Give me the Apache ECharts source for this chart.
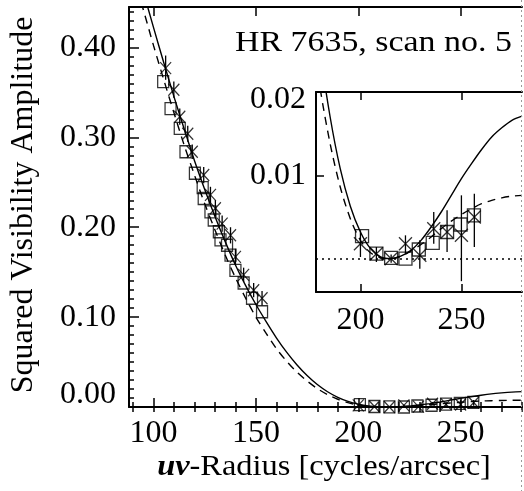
<!DOCTYPE html>
<html>
<head>
<meta charset="utf-8">
<script src="https://cdn.jsdelivr.net/npm/echarts@6/dist/echarts.min.js"></script>
<style>
  html, body { margin: 0; padding: 0; background: #fff; }
  #chart { width: 524px; height: 491px; }
</style>
</head>
<body>
<div id="chart"></div>
<script>
// squares (one set of measurements)
const sqX = [104.7, 108.3, 112.8, 115.6, 120.2, 124.0, 124.5, 127.8, 129.4, 131.9, 132.7, 135.9, 137.6, 140.0, 144.0, 148.1, 153.0,
  200.8, 207.9, 215.2, 222.3, 228.9, 235.8, 242.9, 249.6, 256.2]
const sqY = [0.362, 0.332, 0.310, 0.284, 0.260, 0.244, 0.232, 0.217, 0.208, 0.195, 0.186, 0.180, 0.169, 0.152, 0.138, 0.121, 0.106,
  0.0027, 0.0006, 0.0001, 0.0000, 0.0011, 0.0019, 0.0032, 0.0041, 0.0052]

// crosses with error bars (low / high)
const crX = [105.9, 109.9, 112.8, 116.7, 118.9, 124.5, 127.8, 130.2, 133.5, 137.6, 140.0, 144.0, 148.9, 153.0,
  200.0, 207.9, 215.2, 222.3, 229.4, 236.3, 242.9, 250.0, 256.4]
const crY = [0.377, 0.353, 0.323, 0.304, 0.284, 0.258, 0.236, 0.221, 0.204, 0.191, 0.167, 0.147, 0.130, 0.121,
  0.0018, 0.0006, 0.0000, 0.0018, 0.0004, 0.0036, 0.0032, 0.0028, 0.0050]
const crLo = [0.364, 0.344, 0.314, 0.295, 0.276, 0.249, 0.227, 0.212, 0.195, 0.182, 0.158, 0.139, 0.122, 0.113,
  0.0002, -0.0004, -0.0005, 0.0006, -0.0012, 0.0018, 0.0008, -0.0027, 0.0014]
const crHi = [0.391, 0.362, 0.332, 0.313, 0.292, 0.267, 0.245, 0.230, 0.213, 0.200, 0.176, 0.155, 0.138, 0.129,
  0.0034, 0.0014, 0.0005, 0.0028, 0.0022, 0.0056, 0.0058, 0.0076, 0.0078]

// model curves: solid and dashed
const modelX = [90, 95, 100, 105, 110, 115, 120, 125, 130, 135, 140, 145, 150, 155, 160, 165, 170, 175, 180, 185, 190, 195,
  200, 205, 210, 215, 220, 225, 230, 235, 240, 245, 250, 255, 260, 265, 270, 275, 280]
const solidY = [0.500, 0.462, 0.422, 0.383, 0.345, 0.309, 0.274, 0.242, 0.212, 0.184, 0.158, 0.135, 0.114, 0.095, 0.077, 0.061, 0.047, 0.035, 0.0250, 0.0170, 0.0108, 0.0063,
  0.0032, 0.0012, 0.0002, 0.0000, 0.0003, 0.0010, 0.0022, 0.0038, 0.0056, 0.0076, 0.0096, 0.0114, 0.0131, 0.0146, 0.0157, 0.0166, 0.0171]
const dashY = [0.480, 0.442, 0.402, 0.364, 0.327, 0.291, 0.258, 0.226, 0.197, 0.169, 0.144, 0.121, 0.100, 0.082, 0.065, 0.051, 0.039, 0.029, 0.0205, 0.0138, 0.0086, 0.0048,
  0.0022, 0.0007, 0.0001, 0.0000, 0.0003, 0.0009, 0.0017, 0.0026, 0.0036, 0.0045, 0.0053, 0.0060, 0.0066, 0.0070, 0.0073, 0.0075, 0.0076]

// tick labels
const xTicks = [100, 150, 200, 250]
const yTicks = [0, 0.1, 0.2, 0.3, 0.4]
const insetXTicks = [200, 250]
const insetYTicks = [0.01, 0.02]

const xMinor = []
for (let v = 90; v <= 280; v += 10) xMinor.push(v)
const yMinor = []
for (let k = 0; k <= 44; k++) yMinor.push(k / 100)

const FONT = 'Liberation Serif'
const BLACK = '#000'

const squares = sqX.map((x, i) => [x, sqY[i]])
const crosses = crX.map((x, i) => [x, crY[i]])
const errBars = crX.map((x, i) => [x, crLo[i], crHi[i]])
const solid = modelX.map((x, i) => [x, solidY[i]])
const dashed = modelX.map((x, i) => [x, dashY[i]])

const chart = echarts.init(document.getElementById('chart'), null, { renderer: 'canvas' })

function valueAxis(extra) {
  return Object.assign({
    type: 'value',
    splitLine: { show: false },
    axisLine: { show: true, onZero: false, lineStyle: { color: BLACK, width: 2 } },
    axisTick: { show: false },
    axisLabel: { show: false },
  }, extra)
}
const tickStyle = { color: BLACK, width: 1.5 }
const labelStyle = { color: BLACK, fontFamily: FONT, fontSize: 32 }
const rt = { fontFamily: FONT, fontSize: 32, color: BLACK }

const xAxes = [
  // main plot
  valueAxis({ gridIndex: 0, min: 88, max: 280, position: 'bottom',
    axisTick: { show: true, inside: true, length: 9, customValues: xTicks, lineStyle: tickStyle },
    axisLabel: Object.assign({ show: true, margin: 11, customValues: xTicks }, labelStyle) }),
  valueAxis({ gridIndex: 0, min: 88, max: 280, position: 'bottom', axisLine: { show: false },
    axisTick: { show: true, inside: true, length: 5, customValues: xMinor, lineStyle: tickStyle } }),
  valueAxis({ gridIndex: 0, min: 88, max: 280, position: 'top',
    axisTick: { show: true, inside: true, length: 9, customValues: xTicks, lineStyle: tickStyle } }),
  valueAxis({ gridIndex: 0, min: 88, max: 280, position: 'top', axisLine: { show: false },
    axisTick: { show: true, inside: true, length: 5, customValues: xMinor, lineStyle: tickStyle } }),
  // inset
  valueAxis({ gridIndex: 1, min: 178, max: 280, position: 'bottom',
    axisTick: { show: true, inside: true, length: 8, customValues: insetXTicks, lineStyle: tickStyle },
    axisLabel: Object.assign({ show: true, margin: 13, customValues: insetXTicks }, labelStyle) }),
  valueAxis({ gridIndex: 1, min: 178, max: 280, position: 'top',
    axisTick: { show: true, inside: true, length: 8, customValues: insetXTicks, lineStyle: tickStyle } }),
]

const yAxes = [
  valueAxis({ gridIndex: 0, min: 0, max: 0.445, position: 'left',
    axisTick: { show: true, inside: true, length: 10, customValues: yTicks, lineStyle: tickStyle },
    axisLabel: Object.assign({ show: true, margin: 13, customValues: yTicks,
      formatter: v => (v === 0 ? '{lo|0.00}' : '{n|' + v.toFixed(2) + '}'),
      rich: { n: rt, lo: Object.assign({ padding: [0, 0, 24, 0] }, rt) } }, labelStyle) }),
  valueAxis({ gridIndex: 0, min: 0, max: 0.445, position: 'left', axisLine: { show: false },
    axisTick: { show: true, inside: true, length: 5, customValues: yMinor, lineStyle: tickStyle } }),
  valueAxis({ gridIndex: 1, min: -0.004, max: 0.02, position: 'left',
    axisTick: { show: true, inside: true, length: 8, customValues: insetYTicks, lineStyle: tickStyle },
    axisLabel: Object.assign({ show: true, margin: 10, customValues: insetYTicks,
      formatter: v => (v > 0.015 ? '{hi|' + v.toFixed(2) + '}' : '{n|' + v.toFixed(2) + '}'),
      rich: { n: rt, hi: Object.assign({ padding: [16, 0, 0, 0] }, rt) } }, labelStyle) }),
]

const squareStyle = { color: 'transparent', borderColor: BLACK, borderWidth: 1.3 }
const crossStyle = { color: 'transparent', borderColor: BLACK, borderWidth: 1.3 }
const crossPath = 'path://M0,0L10,10M10,0L0,10'

function errRender(params, api) {
  const p1 = api.coord([api.value(0), api.value(1)])
  const p2 = api.coord([api.value(0), api.value(2)])
  return { type: 'line', shape: { x1: p1[0], y1: p1[1], x2: p2[0], y2: p2[1] },
    style: { stroke: BLACK, lineWidth: 1.3 } }
}

function panelSeries(xi, yi, sym, inset) {
  const list = [
    { type: 'line', xAxisIndex: xi, yAxisIndex: yi, data: solid, smooth: 0.3, showSymbol: false, silent: true,
      lineStyle: { color: BLACK, width: 1.4 }, z: 3 },
    { type: 'line', xAxisIndex: xi, yAxisIndex: yi, data: dashed, smooth: 0.3, showSymbol: false, silent: true,
      lineStyle: { color: BLACK, width: 1.4, type: [8, 6] }, z: 3 },
    { type: 'custom', xAxisIndex: xi, yAxisIndex: yi, data: errBars, renderItem: errRender, clip: true, silent: true, z: 4 },
    { type: 'scatter', xAxisIndex: xi, yAxisIndex: yi, data: squares, symbol: 'rect', symbolSize: sym,
      itemStyle: squareStyle, clip: true, z: 5 },
    { type: 'scatter', xAxisIndex: xi, yAxisIndex: yi, data: crosses, symbol: crossPath, symbolSize: sym,
      itemStyle: crossStyle, clip: true, z: 5 },
  ]
  if (inset) {
    list[0].markLine = { symbol: 'none', silent: true, label: { show: false },
      lineStyle: { color: BLACK, width: 1.5, type: [2, 4] }, data: [{ yAxis: 0 }] }
  }
  return list
}

chart.setOption({
  animation: false,
  backgroundColor: '#fff',
  grid: [
    { left: 129, top: 7, right: 2, bottom: 84 },
    { left: 316, top: 92, right: 2, bottom: 199 },
  ],
  xAxis: xAxes,
  yAxis: yAxes,
  series: [
    ...panelSeries(0, 0, [11, 12], false),
    ...panelSeries(4, 2, [13, 13], true),
  ],
  graphic: [
    // page edge of the original scan
    { type: 'line', silent: true, shape: { x1: 521.5, y1: 0, x2: 521.5, y2: 491 },
      style: { stroke: '#999', lineWidth: 1, lineDash: [2, 3] }, z: 10 },
    { type: 'text', x: 235, y: 43, scaleX: 1.13,
      style: { text: 'HR 7635, scan no. 5', fontFamily: FONT, fontSize: 30, fill: BLACK, verticalAlign: 'middle' } },
    { type: 'text', x: 324, y: 467, scaleX: 1.08,
      style: { text: '{a|uv}-Radius [cycles/arcsec]', fontFamily: FONT, fontSize: 30, fill: BLACK,
        align: 'center', verticalAlign: 'middle',
        rich: { a: { fontFamily: FONT, fontSize: 30, fontWeight: 'bold', fontStyle: 'italic', fill: BLACK } } } },
    { type: 'text', x: 24, y: 205, rotation: Math.PI / 2,
      style: { text: 'Squared Visibility Amplitude', fontFamily: FONT, fontSize: 32, fill: BLACK,
        align: 'center', verticalAlign: 'middle' } },
  ],
})
</script>
</body>
</html>
